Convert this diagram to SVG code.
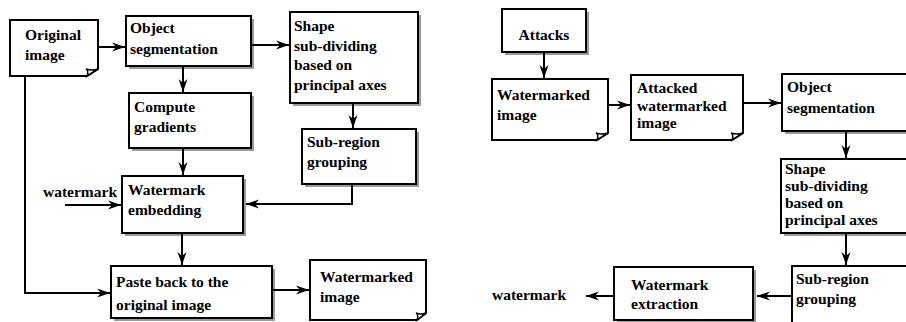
<svg xmlns="http://www.w3.org/2000/svg" width="906" height="322" viewBox="0 0 906 322">
  <style>
    .box { fill: #fff; stroke: #000; stroke-width: 2; }
    .shadow { fill: #9a9a9a; }
    .doc { fill: #fff; stroke: #000; stroke-width: 2; stroke-linejoin: miter; }
    .fold { fill: #fff; stroke: #000; stroke-width: 1.5; }
    .lbl { font-family: "Liberation Serif", "Times New Roman", serif; font-weight: bold; font-size: 15.5px; fill: #000; }
    .wire { fill: none; stroke: #000; stroke-width: 2; marker-end: url(#arrow); }
  </style>
  <defs>
    <marker id="arrow" markerUnits="userSpaceOnUse" markerWidth="14" markerHeight="10" refX="13" refY="5" orient="auto">
      <path d="M0,0.5 L13,5 L0,9.5 L4,5 Z" fill="#000"/>
    </marker>
  </defs>
  <rect width="906" height="322" fill="#fff"/>

  <!-- left flow: embedding -->
  <g id="original-image">
    <path class="doc" d="M10,20 H98 V69 L87,76 H10 Z"/>
    <path class="fold" d="M87,76 Q89,71 86,69 Q92,71 98,69 Z"/>
    <text class="lbl" x="25" y="40">Original</text>
    <text class="lbl" x="25" y="60">image</text>
  </g>
  <g id="object-segmentation-l">
    <rect class="shadow" x="129" y="19" width="125" height="50"/>
    <rect class="box" x="126" y="16" width="125" height="50"/>
    <text class="lbl" x="130" y="33">Object</text>
    <text class="lbl" x="130" y="54">segmentation</text>
  </g>
  <g id="shape-subdividing-l">
    <rect class="shadow" x="293" y="15" width="128" height="91"/>
    <rect class="box" x="290" y="12" width="128" height="91"/>
    <text class="lbl" x="294" y="31">Shape</text>
    <text class="lbl" x="294" y="51">sub-dividing</text>
    <text class="lbl" x="294" y="70">based on</text>
    <text class="lbl" x="294" y="90">principal axes</text>
  </g>
  <g id="compute-gradients">
    <rect class="shadow" x="132" y="96" width="122" height="55"/>
    <rect class="box" x="129" y="93" width="122" height="55"/>
    <text class="lbl" x="134" y="112">Compute</text>
    <text class="lbl" x="134" y="132">gradients</text>
  </g>
  <g id="subregion-grouping-l">
    <rect class="shadow" x="305" y="132" width="114" height="55"/>
    <rect class="box" x="302" y="129" width="114" height="55"/>
    <text class="lbl" x="307" y="147">Sub-region</text>
    <text class="lbl" x="307" y="167">grouping</text>
  </g>
  <g id="watermark-in">
    <text class="lbl" x="43" y="197">watermark</text>
  </g>
  <g id="watermark-embedding">
    <rect class="shadow" x="125" y="179" width="121" height="57"/>
    <rect class="box" x="122" y="176" width="121" height="57"/>
    <text class="lbl" x="128" y="195">Watermark</text>
    <text class="lbl" x="128" y="215">embedding</text>
  </g>
  <g id="paste-back">
    <rect class="shadow" x="114" y="269" width="161" height="52"/>
    <rect class="box" x="111" y="266" width="161" height="52"/>
    <text class="lbl" x="116" y="287">Paste back to the</text>
    <text class="lbl" x="116" y="310">original image</text>
  </g>
  <g id="watermarked-image-l">
    <path class="doc" d="M310,260 H426 V313 L417,320 H310 Z"/>
    <path class="fold" d="M417,320 Q419,315 416,313 Q421,315 426,313 Z"/>
    <text class="lbl" x="320" y="282">Watermarked</text>
    <text class="lbl" x="320" y="302">image</text>
  </g>

  <!-- right flow: extraction -->
  <g id="attacks">
    <rect class="shadow" x="505" y="12" width="84" height="43"/>
    <rect class="box" x="502" y="9" width="84" height="43"/>
    <text class="lbl" x="544" y="40" text-anchor="middle">Attacks</text>
  </g>
  <g id="watermarked-image-r">
    <path class="doc" d="M492,79 H608 V133 L597,140 H492 Z"/>
    <path class="fold" d="M597,140 Q599,135 596,133 Q602,135 608,133 Z"/>
    <text class="lbl" x="497" y="100">Watermarked</text>
    <text class="lbl" x="497" y="120">image</text>
  </g>
  <g id="attacked-image">
    <path class="doc" d="M631,75 H743 V133 L732,140 H631 Z"/>
    <path class="fold" d="M732,140 Q734,135 731,133 Q737,135 743,133 Z"/>
    <text class="lbl" x="637" y="93">Attacked</text>
    <text class="lbl" x="637" y="111">watermarked</text>
    <text class="lbl" x="637" y="128">image</text>
  </g>
  <g id="object-segmentation-r">
    <rect class="shadow" x="785" y="77" width="130" height="57"/>
    <rect class="box" x="782" y="74" width="130" height="57"/>
    <text class="lbl" x="787" y="92">Object</text>
    <text class="lbl" x="787" y="113">segmentation</text>
  </g>
  <g id="shape-subdividing-r">
    <rect class="shadow" x="784" y="162" width="130" height="74"/>
    <rect class="box" x="781" y="159" width="130" height="74"/>
    <text class="lbl" x="785" y="174">Shape</text>
    <text class="lbl" x="785" y="191">sub-dividing</text>
    <text class="lbl" x="785" y="208">based on</text>
    <text class="lbl" x="785" y="225">principal axes</text>
  </g>
  <g id="subregion-grouping-r">
    <rect class="shadow" x="795" y="269" width="120" height="60"/>
    <rect class="box" x="792" y="266" width="120" height="60"/>
    <text class="lbl" x="796" y="284">Sub-region</text>
    <text class="lbl" x="796" y="304">grouping</text>
  </g>
  <g id="watermark-extraction">
    <rect class="shadow" x="617" y="270" width="139" height="53"/>
    <rect class="box" x="614" y="267" width="139" height="53"/>
    <text class="lbl" x="631" y="290">Watermark</text>
    <text class="lbl" x="631" y="309">extraction</text>
  </g>
  <g id="watermark-out">
    <text class="lbl" x="492" y="300">watermark</text>
  </g>

  <g id="connectors">
    <path class="wire" d="M98,47 H125"/>
    <path class="wire" d="M251,45 H289"/>
    <path class="wire" d="M183,66 V92"/>
    <path class="wire" d="M183,148 V175"/>
    <path class="wire" d="M353,103 V128"/>
    <path class="wire" d="M352,184 V204 H246"/>
    <path class="wire" d="M65,205 H121"/>
    <path class="wire" d="M182,233 V265"/>
    <path class="wire" d="M25,76 V293 H110"/>
    <path class="wire" d="M272,290 H309"/>

    <path class="wire" d="M544,52 V78"/>
    <path class="wire" d="M608,105 H630"/>
    <path class="wire" d="M743,103 H781"/>
    <path class="wire" d="M846,131 V158"/>
    <path class="wire" d="M846,233 V265"/>
    <path class="wire" d="M792,296 H757"/>
    <path class="wire" d="M614,296 H586"/>
  </g>
</svg>
